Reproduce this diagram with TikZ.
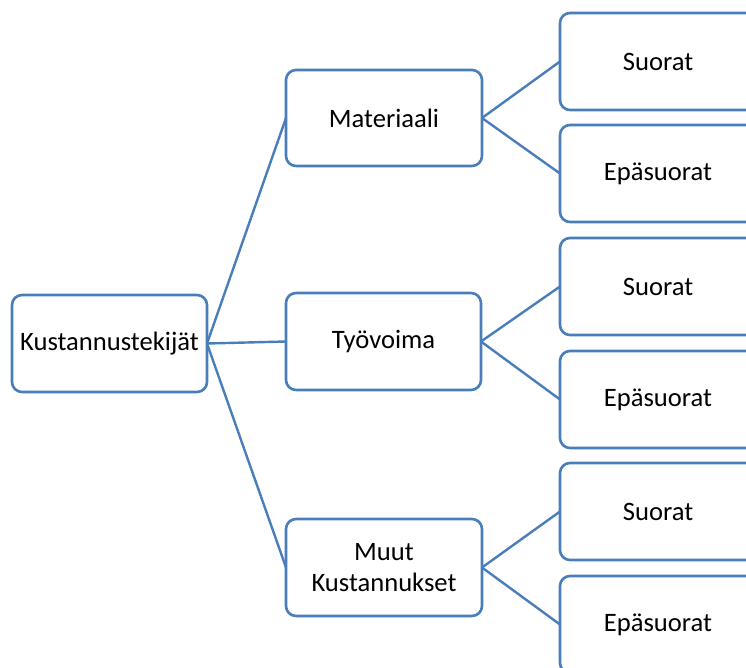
\documentclass[tikz,border=0pt]{standalone}
\usepackage{fontspec}
\setmainfont{Carlito}
\definecolor{officeblue}{HTML}{4A7EBB}
\tikzset{
  box/.style={draw=officeblue, line width=2.6pt, rounded corners=10pt, fill=white,
    minimum width=196pt, minimum height=97pt, inner sep=0pt, outer sep=0pt,
    align=center, font=\fontsize{26.6}{31}\selectfont},
  link/.style={draw=officeblue, line width=2.4pt}
}
\begin{document}
\begin{tikzpicture}[x=1pt,y=-1pt]
  \useasboundingbox (0,0) rectangle (746,668);
  \clip (0,0) rectangle (746,668);
  % root and first level
  \node[box, minimum width=195pt] (root) at (109.5,343.5) {Kustannustekijät};
  \node[box, minimum height=96pt] (mat) at (384,118) {Materiaali};
  \node[box, minimum width=195pt] (tyo) at (383.5,341.5) {Työvoima};
  \node[box] (muut) at (384,567.5) {Muut\\Kustannukset};
  % second level
  \node[box] (s1) at (658,61.5) {Suorat};
  \node[box] (e1) at (658,173.5) {Epäsuorat};
  \node[box] (s2) at (658,286.5) {Suorat};
  \node[box] (e2) at (658,399.5) {Epäsuorat};
  \node[box] (s3) at (658,511.5) {Suorat};
  \node[box] (e3) at (658,624.5) {Epäsuorat};
  % connectors
  \draw[link] (root.east) -- (mat.west);
  \draw[link] (root.east) -- (tyo.west);
  \draw[link] (root.east) -- (muut.west);
  \draw[link] (mat.east) -- (s1.west);
  \draw[link] (mat.east) -- (e1.west);
  \draw[link] (tyo.east) -- (s2.west);
  \draw[link] (tyo.east) -- (e2.west);
  \draw[link] (muut.east) -- (s3.west);
  \draw[link] (muut.east) -- (e3.west);
\end{tikzpicture}
\end{document}
